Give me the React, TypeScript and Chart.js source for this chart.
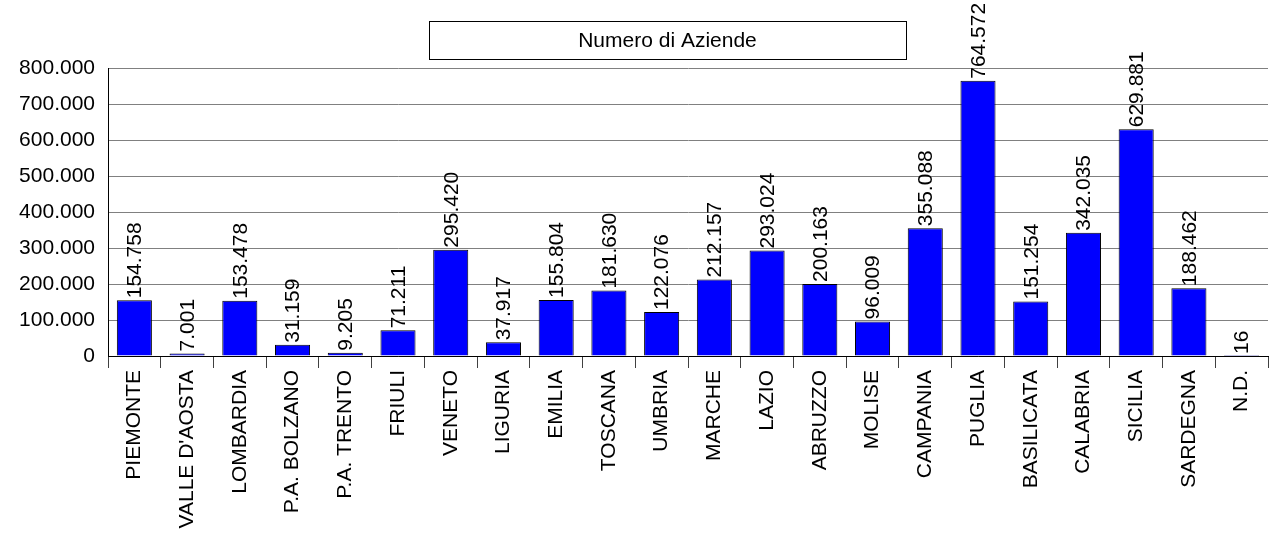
import React, { useEffect, useRef } from "react";
import { Chart, registerables } from "chart.js";

Chart.register(...registerables);

const categories = [
  "PIEMONTE", "VALLE D'AOSTA", "LOMBARDIA", "P.A. BOLZANO", "P.A. TRENTO", "FRIULI",
  "VENETO", "LIGURIA", "EMILIA", "TOSCANA", "UMBRIA", "MARCHE", "LAZIO", "ABRUZZO",
  "MOLISE", "CAMPANIA", "PUGLIA", "BASILICATA", "CALABRIA", "SICILIA", "SARDEGNA", "N.D.",
];
const aziende = [
  154758, 7001, 153478, 31159, 9205, 71211, 295420, 37917, 155804, 181630, 122076,
  212157, 293024, 200163, 96009, 355088, 764572, 151254, 342035, 629881, 188462, 16,
];
const titleText = "Numero di Aziende";
const yMin = 0;
const yMax = 800000;
const yStep = 100000;

const FONT = "'Liberation Sans', Arial, Helvetica, sans-serif";

function fmt(v: number): string {
  const s = Math.round(v).toString();
  return s.replace(/\B(?=(\d{3})+(?!\d))/g, ".");
}

const labelPlugin = {
  id: "valueLabels",
  afterDatasetsDraw(chart: any) {
    const ctx = chart.ctx;
    const meta = chart.getDatasetMeta(0);
    ctx.save();
    ctx.font = `21px ${FONT}`;
    ctx.fillStyle = "#000";
    meta.data.forEach((bar: any, i: number) => {
      ctx.save();
      ctx.translate(bar.x + 1, bar.y - 2);
      ctx.rotate(-Math.PI / 2);
      ctx.textAlign = "left";
      ctx.textBaseline = "middle";
      ctx.fillText(fmt(aziende[i]), 0, 0);
      ctx.restore();
    });
    ctx.restore();
  },
  afterDraw(chart: any) {
    const ctx = chart.ctx;
    ctx.save();
    ctx.strokeStyle = "#000";
    ctx.lineWidth = 1;
    ctx.fillStyle = "#fff";
    const x = 429, y = 21, w = 477, h = 38;
    ctx.fillRect(x, y, w, h);
    ctx.strokeRect(x + 0.5, y + 0.5, w, h);
    ctx.fillStyle = "#000";
    ctx.font = `21px ${FONT}`;
    ctx.textAlign = "center";
    ctx.textBaseline = "middle";
    ctx.fillText(titleText, x + w / 2, y + h / 2 + 1);
    ctx.restore();
  },
};

export default function App() {
  const ref = useRef<HTMLCanvasElement | null>(null);
  useEffect(() => {
    if (!ref.current) return;
    const chart = new Chart(ref.current, {
      type: "bar",
      data: {
        labels: categories,
        datasets: [
          {
            label: titleText,
            data: aziende,
            backgroundColor: "#0000FF",
            borderColor: "#000000",
            borderWidth: 1,
            barPercentage: 0.665,
            categoryPercentage: 1,
          },
        ],
      },
      options: {
        responsive: false,
        animation: false,
        devicePixelRatio: 1,
        layout: { padding: { top: 68, right: 3, left: 0, bottom: 0 } },
        plugins: {
          legend: { display: false },
          title: { display: false },
          tooltip: { enabled: false },
        },
        scales: {
          x: {
            offset: true,
            grid: {
              offset: true,
              drawOnChartArea: false,
              drawTicks: true,
              tickLength: 12,
              color: "#404040",
            },
            border: { display: true, color: "#000", width: 1 },
            ticks: {
              autoSkip: false,
              minRotation: 90,
              maxRotation: 90,
              padding: 2,
              color: "#000",
              font: { family: FONT, size: 21 },
            },
            afterFit(scale: any) {
              scale.height = 177;
            },
          },
          y: {
            min: yMin,
            max: yMax,
            grid: { color: "#808080", drawTicks: false, lineWidth: 1 },
            border: { display: true, color: "#000", width: 1 },
            ticks: {
              stepSize: yStep,
              padding: 13,
              color: "#000",
              font: { family: FONT, size: 21 },
              callback: (v: any) => fmt(Number(v)),
            },
            afterFit(scale: any) {
              scale.width = 108;
            },
          },
        },
      },
      plugins: [labelPlugin],
    });
    return () => chart.destroy();
  }, []);
  return (
    <div style={{ position: "absolute", left: 0, top: 0, width: 1271, height: 533, background: "#fff" }}>
      <canvas ref={ref} width={1271} height={533} style={{ display: "block" }} />
    </div>
  );
}
